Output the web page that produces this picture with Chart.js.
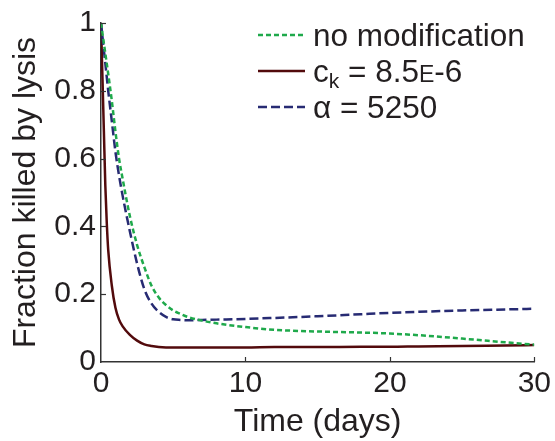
<!DOCTYPE html>
<html><head><meta charset="utf-8">
<script src="https://cdn.jsdelivr.net/npm/chart.js@4.4.1/dist/chart.umd.min.js"></script>
<style>
html,body{margin:0;padding:0;background:#fff;}
#wrap{position:relative;width:555px;height:441px;}
#legend{position:absolute;left:258px;top:17px;font-family:"Liberation Sans",Arial,sans-serif;font-size:31.5px;color:#231f20;}
.row{display:flex;align-items:center;height:36px;white-space:nowrap;}
.row svg{flex:none;}
.row .t{margin-left:8px;}
sub{font-size:21px;vertical-align:-6px;line-height:0;}
.sc{font-size:23px;}
</style></head><body>
<div id="wrap"><canvas id="c" width="555" height="441"></canvas><div id="legend"></div></div>
<script>
const times          = [0, 0.1, 0.2, 0.3, 0.4, 0.5, 0.75, 1, 1.25, 1.5, 2, 2.5, 3, 3.5, 4, 4.5, 5, 5.5, 6, 7, 8, 10, 12, 15, 18, 20, 22, 25, 28, 30];
const noModification = [1, 0.97, 0.94, 0.91, 0.88, 0.85, 0.77, 0.68, 0.60, 0.54, 0.43, 0.345, 0.28, 0.225, 0.19, 0.168, 0.152, 0.142, 0.133, 0.122, 0.114, 0.103, 0.095, 0.090, 0.087, 0.084, 0.079, 0.069, 0.058, 0.051];
const ckModified     = [1, 0.84, 0.68, 0.52, 0.41, 0.33, 0.225, 0.16, 0.125, 0.105, 0.080, 0.063, 0.052, 0.047, 0.044, 0.043, 0.043, 0.043, 0.043, 0.043, 0.043, 0.043, 0.044, 0.044, 0.045, 0.045, 0.046, 0.047, 0.049, 0.050];
const alphaModified  = [1, 0.96, 0.92, 0.88, 0.84, 0.80, 0.71, 0.62, 0.55, 0.49, 0.385, 0.29, 0.215, 0.172, 0.148, 0.133, 0.126, 0.124, 0.123, 0.124, 0.125, 0.127, 0.130, 0.135, 0.141, 0.145, 0.148, 0.152, 0.155, 0.157];
const xTickValues = [0, 10, 20, 30];
const xTickLabels = ['0', '10', '20', '30'];
const yTickValues = [0, 0.2, 0.4, 0.6, 0.8, 1];
const yTickLabels = ['0', '0.2', '0.4', '0.6', '0.8', '1'];
const seriesLabels = ['no modification', 'c_k = 8.5E-6', 'α = 5250'];
const legendHtml = ['no modification', 'c<sub>k</sub> = 8.5<span class="sc">E</span>-6', 'α = 5250'];
const seriesColors = ['#1fa94b', '#520a0c', '#272b73'];
const seriesDash = [[5, 3], [], [9, 4]];
const seriesValues = [noModification, ckModified, alphaModified];

const FONT = '"Liberation Sans", Arial, sans-serif';
const TXT = '#231f20';

const inwardTicks = {
  id: 'inwardTicks',
  afterDatasetsDraw(chart) {
    const ctx = chart.ctx, a = chart.chartArea, xs = chart.scales.x, ys = chart.scales.y;
    ctx.save();
    ctx.strokeStyle = '#333';
    ctx.lineWidth = 1.2;
    xTickValues.forEach(v => {
      if (v === 0) return;
      const px = Math.round(xs.getPixelForValue(v)) + 0.5;
      ctx.beginPath(); ctx.moveTo(px, a.bottom); ctx.lineTo(px, a.bottom - 5); ctx.stroke();
    });
    yTickValues.forEach(v => {
      if (v === 0) return;
      const py = Math.round(ys.getPixelForValue(v)) + 0.5;
      ctx.beginPath(); ctx.moveTo(a.left, py); ctx.lineTo(a.left + 5, py); ctx.stroke();
    });
    ctx.restore();
  }
};

const datasets = seriesValues.map((vals, i) => ({
  label: seriesLabels[i],
  data: times.map((t, j) => ({x: t, y: vals[j]})),
  borderColor: seriesColors[i],
  backgroundColor: seriesColors[i],
  borderWidth: 2.5,
  borderDash: seriesDash[i],
  pointRadius: 0,
  cubicInterpolationMode: 'monotone',
  fill: false
}));
const ordered = [datasets[0], datasets[2], datasets[1]];

const chart = new Chart(document.getElementById('c'), {
  type: 'line',
  data: {datasets: ordered},
  options: {
    responsive: false,
    animation: false,
    layout: {padding: {left: 0, right: 20, top: 21, bottom: 0}},
    plugins: {legend: {display: false}, tooltip: {enabled: false}},
    scales: {
      x: {
        type: 'linear', min: 0, max: 30,
        afterBuildTicks: s => { s.ticks = xTickValues.map(v => ({value: v})); },
        afterFit: s => { s.height = 79; },
        ticks: {callback: v => xTickLabels[xTickValues.indexOf(v)], font: {family: FONT, size: 30}, color: TXT, padding: 4, maxRotation: 0, autoSkip: false},
        grid: {display: false, drawTicks: false},
        border: {display: true, color: '#333', width: 1.5},
        title: {display: true, text: 'Time (days)', font: {family: FONT, size: 32}, color: TXT, padding: {top: 0, bottom: 0}}
      },
      y: {
        type: 'linear', min: 0, max: 1,
        afterBuildTicks: s => { s.ticks = yTickValues.map(v => ({value: v})); },
        afterFit: s => { s.width = 101; },
        ticks: {callback: v => yTickLabels[yTickValues.indexOf(v)], font: {family: FONT, size: 30}, color: TXT, padding: 5, autoSkip: false},
        grid: {display: false, drawTicks: false},
        border: {display: true, color: '#333', width: 1.5},
        title: {display: true, text: 'Fraction killed by lysis', font: {family: FONT, size: 32}, color: TXT, padding: {top: 7, bottom: 0}}
      }
    }
  },
  plugins: [inwardTicks]
});

const leg = document.getElementById('legend');
seriesLabels.forEach((lab, i) => {
  const row = document.createElement('div');
  row.className = 'row';
  const dash = seriesDash[i].length ? seriesDash[i].join(' ') : 'none';
  row.innerHTML = '<svg width="47" height="10"><line x1="0" y1="5" x2="47" y2="5" stroke="' + seriesColors[i] +
    '" stroke-width="2.5" stroke-dasharray="' + dash + '"/></svg><span class="t">' + legendHtml[i] + '</span>';
  leg.appendChild(row);
});
</script>
</body></html>
